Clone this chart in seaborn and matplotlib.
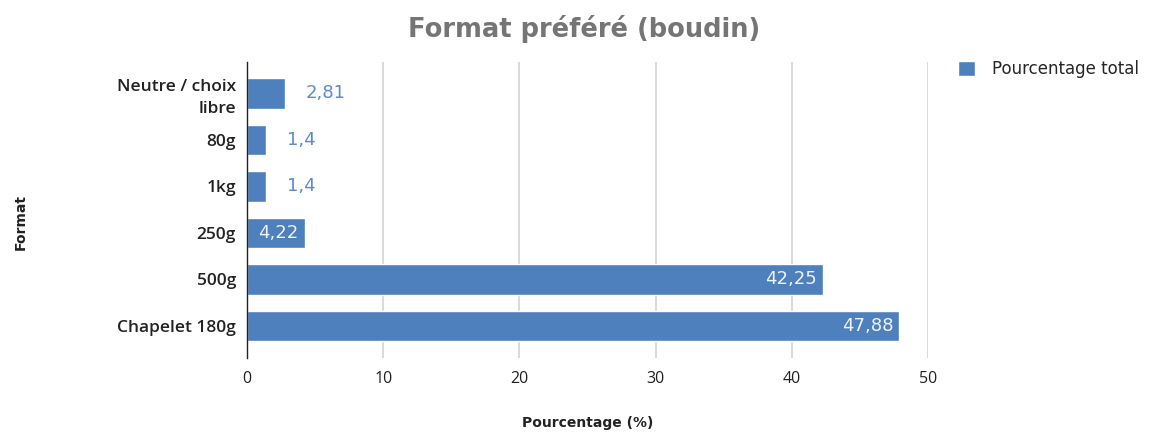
import matplotlib
matplotlib.use("Agg")
import matplotlib.pyplot as plt
import seaborn as sns
import pandas as pd

categories = ["Neutre / choix\nlibre", "80g", "1kg", "250g", "500g", "Chapelet 180g"]
values = [2.81, 1.4, 1.4, 4.22, 42.25, 47.88]
value_labels = ["2,81", "1,4", "1,4", "4,22", "42,25", "47,88"]
series_name = "Pourcentage total"

BAR = "#4e80bd"

sns.set_theme(style="white")
plt.rcParams["font.family"] = ["Open Sans", "DejaVu Sans"]

df = pd.DataFrame({"Format": categories, "Pourcentage": values, "Série": series_name})

fig = plt.figure(figsize=(11.63, 4.32), dpi=100)
ax = fig.add_axes([0.2124, 0.171, 0.5856, 0.685])

sns.barplot(data=df, y="Format", x="Pourcentage", hue="Série", orient="h",
            palette=[BAR], width=0.65, ax=ax, legend=True, saturation=1)

ax.set_xlim(0, 50)
ax.set_ylim(5.69, -0.67)
ax.set_xticks([0, 10, 20, 30, 40, 50])
ax.xaxis.grid(True, color="#d3d3d3", linewidth=1.2)
ax.yaxis.grid(False)
ax.set_axisbelow(True)
for s in ["top", "right", "bottom"]:
    ax.spines[s].set_visible(False)
ax.spines["left"].set_color("#222222")
ax.spines["left"].set_linewidth(1.0)
ax.tick_params(axis="both", length=0)
ax.tick_params(axis="x", labelsize=11.5, labelcolor="#222222", pad=9)
ax.tick_params(axis="y", labelsize=12.5, labelcolor="#222222", pad=8)
for lbl in ax.get_yticklabels():
    lbl.set_fontweight("semibold")
    lbl.set_horizontalalignment("right")
    lbl.set_multialignment("right")
    lbl.set_linespacing(1.45)

ax.set_xlabel("Pourcentage (%)", fontsize=10, fontweight="bold", color="#222222",
              family="DejaVu Sans")
ax.xaxis.set_label_coords(0.5, -0.196)
ax.set_ylabel("Format", fontsize=10, fontweight="bold", color="#222222",
              family="DejaVu Sans")
ax.yaxis.set_label_coords(-0.322, 0.46)

# value labels: inside the bar end for long bars, outside for short ones
for i, (v, t) in enumerate(zip(values, value_labels)):
    if v >= 4:
        ax.text(v - 0.45, i, t, ha="right", va="center", fontsize=13,
                color="#eef2fa", family="DejaVu Sans")
    else:
        ax.text(v + 1.5, i, t, ha="left", va="center", fontsize=13,
                color="#5b8bd0", family="DejaVu Sans")

fig.suptitle("Format préféré (boudin)", x=0.502, y=0.965, fontsize=18.5,
             fontweight="bold", color="#757575", family="DejaVu Sans")

handles, labels = ax.get_legend_handles_labels()
ax.legend_.remove()
fig.legend(handles, labels, loc="upper left", bbox_to_anchor=(0.818, 0.876),
           frameon=False, handlelength=1.0, handleheight=1.0,
           handletextpad=1.05, borderaxespad=0,
           prop={"family": "DejaVu Sans", "size": 12})

fig.savefig("out.png", dpi=100, facecolor="white")
